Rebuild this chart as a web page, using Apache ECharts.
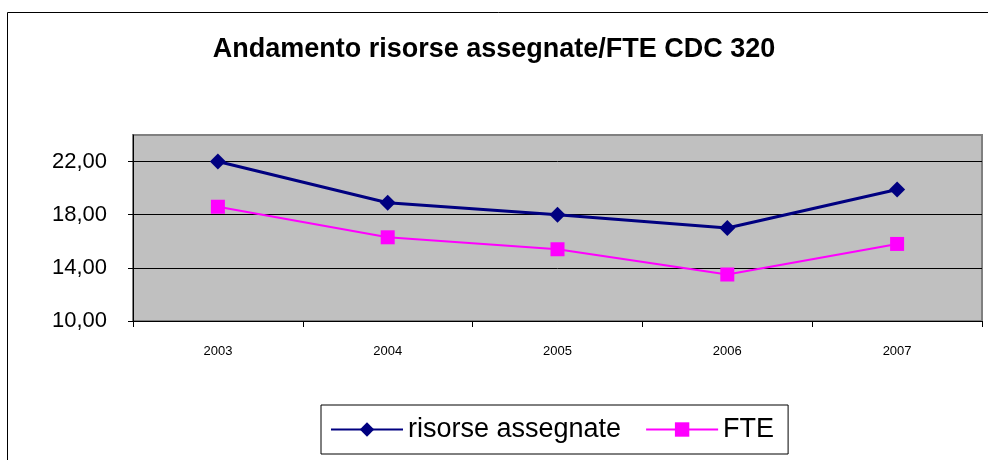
<!DOCTYPE html>
<html>
<head>
<meta charset="utf-8">
<script src="https://cdn.jsdelivr.net/npm/echarts@6/dist/echarts.min.js"></script>
<style>
  html, body { margin: 0; padding: 0; background: #fff; }
  #main { width: 988px; height: 460px; }
</style>
</head>
<body>
<div id="main"></div>
<script>
// dati
var years = ['2003', '2004', '2005', '2006', '2007'];
var risorse = [22.0, 18.9, 18.0, 17.0, 19.9];
var fte = [18.6, 16.3, 15.4, 13.5, 15.8];
var yTicks = [10, 14, 18, 22];

var chart = echarts.init(document.getElementById('main'));

function fmt(v) {
  return v.toFixed(2).replace('.', ',');
}

var option = {
  backgroundColor: '#fff',
  animation: false,
  textStyle: { fontFamily: 'Liberation Sans, Arial, sans-serif' },
  title: {
    text: 'Andamento risorse assegnate/FTE CDC 320',
    left: 'center',
    top: 31,
    textStyle: { fontSize: 27, fontWeight: 'bold', color: '#000' }
  },
  graphic: [{
    type: 'rect',
    left: 5, top: 10,
    shape: { width: 1000, height: 500 },
    style: { fill: 'none', stroke: '#000', lineWidth: 1 },
    z: -1
  }],
  legend: {
    bottom: 6,
    left: 321,
    data: ['risorse assegnate', 'FTE'],
    itemWidth: 72,
    itemHeight: 18,
    itemGap: 24,
    padding: [11, 14, 11, 9],
    borderColor: '#000',
    borderWidth: 1,
    textStyle: { fontSize: 27, color: '#000' }
  },
  grid: {
    left: 133, right: 6, top: 135, bottom: 139,
    show: true,
    backgroundColor: '#c0c0c0',
    borderColor: '#808080',
    borderWidth: 2
  },
  xAxis: {
    type: 'category',
    data: years,
    boundaryGap: true,
    axisLine: { lineStyle: { color: '#000', width: 1 } },
    axisTick: { show: true, alignWithLabel: false, length: 6, lineStyle: { color: '#000' } },
    axisLabel: { fontSize: 13, color: '#000', margin: 24 }
  },
  yAxis: {
    type: 'value',
    min: 10,
    max: 24,
    interval: 4,
    axisLine: { show: true, lineStyle: { color: '#000', width: 1 } },
    axisTick: { show: true, length: 5, customValues: yTicks, lineStyle: { color: '#000' } },
    axisLabel: { fontSize: 22, color: '#000', margin: 26, customValues: yTicks, formatter: fmt },
    splitLine: { show: true, lineStyle: { color: '#000', width: 1 } }
  },
  series: [{
    name: 'risorse assegnate',
    type: 'line',
    data: risorse,
    symbol: 'diamond',
    symbolSize: 16,
    color: '#000080',
    lineStyle: { width: 3, color: '#000080' },
    itemStyle: { color: '#000080' }
  }, {
    name: 'FTE',
    type: 'line',
    data: fte,
    symbol: 'rect',
    symbolSize: 14,
    color: '#ff00ff',
    lineStyle: { width: 2, color: '#ff00ff' },
    itemStyle: { color: '#ff00ff' }
  }]
};

chart.setOption(option);
</script>
</body>
</html>
